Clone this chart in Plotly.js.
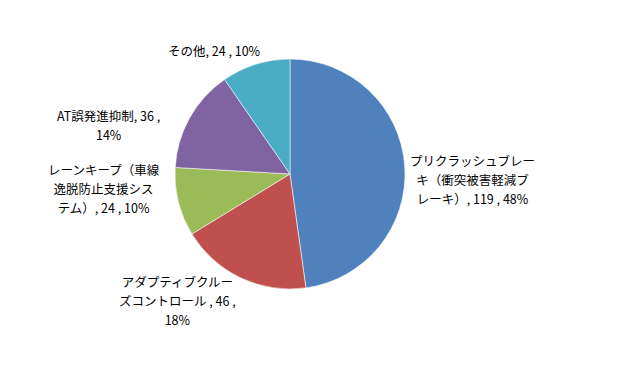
<!DOCTYPE html>
<html><head><meta charset="utf-8">
<script src="https://cdn.plot.ly/plotly-3.0.1.min.js"></script>
<style>html,body{margin:0;padding:0;background:#fff}#chart{width:618px;height:368px}</style>
</head><body><div id="chart"></div>
<script>
const categories = ["プリクラッシュブレーキ（衝突被害軽減ブレーキ）", "アダプティブクルーズコントロール", "レーンキープ（車線逸脱防止支援システム）", "AT誤発進抑制", "その他"];
const wrappedLabels = ["プリクラッシュブレー<br>キ（衝突被害軽減ブ<br>レーキ）", "アダプティブクルー<br>ズコントロール", "レーンキープ（車線<br>逸脱防止支援シス<br>テム）", "AT誤発進抑制", "その他"];
const values = [119, 46, 24, 36, 24];
const percentLabels = ["48%", "18%", "10%", "14%", "10%"];
const colors = ["#4F81BD", "#C0504D", "#9BBB59", "#8064A2", "#4BACC6"];

const texts = categories.map((c, i) => {
  if (i === 1) return wrappedLabels[i] + " , " + values[i] + " ,<br>" + percentLabels[i];
  if (i === 3) return wrappedLabels[i] + ", " + values[i] + " ,<br>" + percentLabels[i];
  return wrappedLabels[i] + ", " + values[i] + " , " + percentLabels[i];
});

// label placement (pixel centres of each data label block, Excel "best fit" style)
const W = 618, H = 368;
const labelCenters = [[472, 180], [177, 300], [104, 188], [108, 125], [214, 50]];

const trace = {
  type: "pie",
  labels: categories,
  values: values,
  textinfo: "none",
  sort: false,
  direction: "clockwise",
  rotation: 0,
  marker: {colors: colors, line: {color: "rgba(255,255,255,0.55)", width: 1}},
  automargin: false,
  showlegend: false,
  hoverinfo: "none",
  domain: {x: [(290 - 115) / W, (290 + 115) / W], y: [(H - 289) / H, (H - 59) / H]}
};

const annotations = texts.map((t, i) => ({
  xref: "paper", yref: "paper",
  x: labelCenters[i][0] / W, y: 1 - labelCenters[i][1] / H,
  xanchor: "center", yanchor: "middle",
  text: t.split("<br>").map(s => '<span style="font-size:12.5px">' + s + '</span>').join("<br>"),
  showarrow: false, align: "center",
  font: {family: "Noto Sans CJK JP, sans-serif", size: 14.5, color: "#000000"}
}));

Plotly.newPlot("chart", [trace], {
  width: W, height: H,
  margin: {l: 0, r: 0, t: 0, b: 0},
  paper_bgcolor: "#ffffff",
  showlegend: false,
  annotations: annotations
}, {staticPlot: true});
</script></body></html>
